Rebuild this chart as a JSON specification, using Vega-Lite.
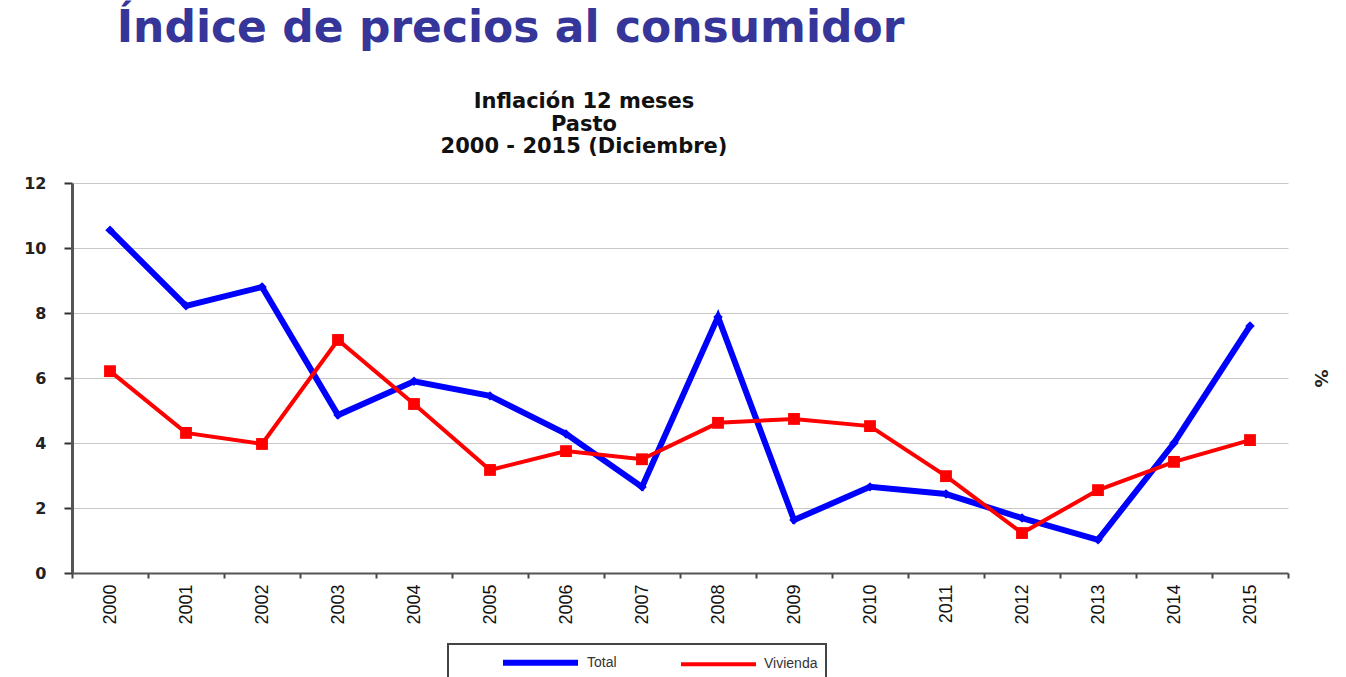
{
  "$schema": "https://vega.github.io/schema/vega-lite/v6.json",
  "background": "white",
  "padding": {"left": 23, "top": 7, "right": 5, "bottom": 0},
  "title": {
    "text": "Índice de precios al consumidor",
    "anchor": "start",
    "dx": 93,
    "font": "DejaVu Sans",
    "fontSize": 44,
    "fontWeight": "bold",
    "color": "#35359a",
    "offset": 40
  },
  "vconcat": [
    {
      "width": 1216,
      "height": 390,
      "title": {
        "text": ["Inflación 12 meses", "Pasto", "2000  -  2015 (Diciembre)"],
        "anchor": "middle",
        "dx": -96,
        "font": "DejaVu Sans",
        "fontSize": 21,
        "fontWeight": "bold",
        "lineHeight": 22.5,
        "color": "#111111",
        "offset": 18
      },
      "data": {
        "values": [
          {"year": "2000", "series": "Total", "value": 10.55},
          {"year": "2001", "series": "Total", "value": 8.22},
          {"year": "2002", "series": "Total", "value": 8.8},
          {"year": "2003", "series": "Total", "value": 4.86},
          {"year": "2004", "series": "Total", "value": 5.9},
          {"year": "2005", "series": "Total", "value": 5.45},
          {"year": "2006", "series": "Total", "value": 4.28},
          {"year": "2007", "series": "Total", "value": 2.65},
          {"year": "2008", "series": "Total", "value": 7.88},
          {"year": "2009", "series": "Total", "value": 1.63},
          {"year": "2010", "series": "Total", "value": 2.65},
          {"year": "2011", "series": "Total", "value": 2.43},
          {"year": "2012", "series": "Total", "value": 1.69},
          {"year": "2013", "series": "Total", "value": 1.02},
          {"year": "2014", "series": "Total", "value": 4.0},
          {"year": "2015", "series": "Total", "value": 7.6},
          {"year": "2000", "series": "Vivienda", "value": 6.21},
          {"year": "2001", "series": "Vivienda", "value": 4.31},
          {"year": "2002", "series": "Vivienda", "value": 3.97},
          {"year": "2003", "series": "Vivienda", "value": 7.17},
          {"year": "2004", "series": "Vivienda", "value": 5.2},
          {"year": "2005", "series": "Vivienda", "value": 3.17},
          {"year": "2006", "series": "Vivienda", "value": 3.75},
          {"year": "2007", "series": "Vivienda", "value": 3.5},
          {"year": "2008", "series": "Vivienda", "value": 4.62},
          {"year": "2009", "series": "Vivienda", "value": 4.74},
          {"year": "2010", "series": "Vivienda", "value": 4.52},
          {"year": "2011", "series": "Vivienda", "value": 2.98},
          {"year": "2012", "series": "Vivienda", "value": 1.23},
          {"year": "2013", "series": "Vivienda", "value": 2.55},
          {"year": "2014", "series": "Vivienda", "value": 3.42},
          {"year": "2015", "series": "Vivienda", "value": 4.09}
        ]
      },
      "encoding": {
        "x": {
          "field": "year",
          "type": "ordinal",
          "bandPosition": 0.5,
          "scale": {"type": "band", "paddingInner": 0, "paddingOuter": 0},
          "axis": {
            "title": null,
            "labelAngle": -90,
            "labelFont": "Liberation Sans",
            "labelFontSize": 18,
            "labelColor": "#111111",
            "labelPadding": 6,
            "tickBand": "extent",
            "tickSize": 5,
            "tickColor": "#444444",
            "tickWidth": 2,
            "domainColor": "#555555",
            "domainWidth": 2,
            "grid": false
          }
        }
      },
      "layer": [
        {
          "mark": {"type": "line", "strokeJoin": "miter"},
          "encoding": {
            "y": {
              "field": "value",
              "type": "quantitative",
              "scale": {"domain": [0, 12], "nice": false},
              "axis": {
                "title": null,
                "values": [0, 2, 4, 6, 8, 10, 12],
                "labelFont": "DejaVu Sans",
                "labelFontWeight": "bold",
                "labelFontSize": 16,
                "labelColor": "#222222",
                "labelPadding": 18,
                "tickSize": 8,
                "tickColor": "#333333",
                "tickWidth": 2,
                "domainColor": "#555555",
                "domainWidth": 3,
                "grid": true,
                "gridColor": "#c8c8c8",
                "gridWidth": 1
              }
            },
            "color": {
              "field": "series",
              "type": "nominal",
              "scale": {"domain": ["Total", "Vivienda"], "range": ["#0000ff", "#ff0000"]},
              "legend": {
                "orient": "none",
                "legendX": 376,
                "legendY": 461,
                "direction": "horizontal",
                "title": null,
                "symbolType": "M-5,0H5",
                "symbolSize": 225,
                "symbolStrokeWidth": 3,
                "labelFont": "Liberation Sans",
                "labelFontSize": 14,
                "labelColor": "#333333",
                "labelOffset": 36,
                "padding": 8,
                "symbolOffset": 74,
                "columnPadding": 18,
                "strokeColor": "#444444"
              }
            },
            "strokeWidth": {
              "field": "series",
              "type": "nominal",
              "scale": {"domain": ["Total", "Vivienda"], "range": [6, 4]},
              "legend": null
            }
          }
        },
        {
          "transform": [{"filter": "datum.series === 'Total'"}],
          "mark": {"type": "point", "shape": "diamond", "filled": true, "size": 90, "color": "#0000ff", "opacity": 1},
          "encoding": {
            "y": {
              "field": "value",
              "type": "quantitative",
              "scale": {"domain": [0, 12], "nice": false},
              "axis": {
                "orient": "right",
                "title": "%",
                "titleFont": "DejaVu Sans",
                "titleFontSize": 18,
                "titleFontWeight": "bold",
                "titleColor": "#222222",
                "titlePadding": 22,
                "labels": false,
                "ticks": false,
                "domain": false,
                "grid": false
              }
            }
          }
        },
        {
          "transform": [{"filter": "datum.series === 'Vivienda'"}],
          "mark": {"type": "square", "size": 140, "color": "#ff0000", "opacity": 1},
          "encoding": {
            "y": {
              "field": "value",
              "type": "quantitative",
              "scale": {"domain": [0, 12], "nice": false},
              "axis": null
            }
          }
        }
      ],
      "resolve": {"axis": {"y": "independent"}}
    }
  ],
  "config": {"view": {"stroke": null}, "legend": {"strokeWidth": 2}}
}
